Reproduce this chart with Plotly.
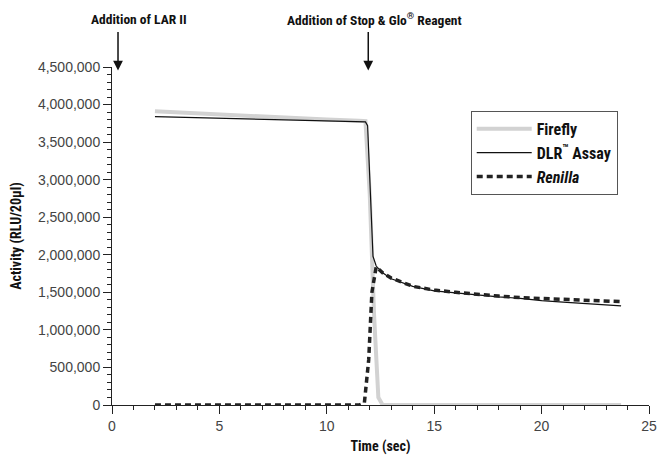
import plotly.graph_objects as go

# ---- data (values in RLU) ----
firefly_t = [2, 4, 6, 8, 10, 11.5, 11.8, 12.0, 12.2, 12.4, 12.6, 15, 20, 23.7]
firefly_v = [3910000, 3880000, 3850000, 3820000, 3800000, 3785000, 3780000,
             2800000, 1200000, 100000, 0, 0, 0, 0]

dlr_t = [2, 5, 8, 10, 11.5, 11.8, 11.9, 12.15, 12.3, 12.6, 13, 14, 15, 16, 17,
         18, 19, 20, 21, 22, 23, 23.7]
dlr_v = [3840000, 3820000, 3800000, 3790000, 3780000, 3770000, 3720000,
         1980000, 1850000, 1760000, 1680000, 1580000, 1520000, 1490000,
         1460000, 1440000, 1420000, 1390000, 1370000, 1350000, 1330000, 1320000]

renilla_t = [2, 4, 6, 8, 10, 11.5, 11.75, 11.95, 12.1, 12.3, 12.6, 13, 14, 15,
             16, 17, 18, 19, 20, 21, 22, 23, 23.7]
renilla_v = [0, 0, 0, 0, 0, 0, 30000, 600000, 1500000, 1840000, 1760000,
             1690000, 1580000, 1530000, 1500000, 1470000, 1450000, 1430000,
             1420000, 1400000, 1390000, 1380000, 1376000]

series_names = ["<b>Firefly</b>", "<b>DLR<sup>™</sup> Assay</b>", "<b><i>Renilla</i></b>"]
events = [("Addition of LAR II", 0.28), ("Addition of Stop &amp; Glo<sup>®</sup> Reagent", 11.93)]

BOLD = "Roboto Condensed, DejaVu Sans Condensed, sans-serif"
REG = "Liberation Sans, Arial, sans-serif"

fig = go.Figure()
fig.add_trace(go.Scatter(x=firefly_t, y=firefly_v, mode="lines", name=series_names[0],
                         line=dict(color="#d2d2d2", width=4)))
fig.add_trace(go.Scatter(x=dlr_t, y=dlr_v, mode="lines", name=series_names[1],
                         line=dict(color="#111111", width=1.2)))
fig.add_trace(go.Scatter(x=renilla_t, y=renilla_v, mode="lines", name=series_names[2],
                         line=dict(color="#222222", width=3.5, dash="6px,4px")))

# event labels and arrows
text_x = [-0.042, 0.323]
for (label, t), tx in zip(events, text_x):
    fig.add_annotation(text="<b>" + label + "</b>", xref="paper", yref="paper",
                       x=tx, y=1.1416, xanchor="left", yanchor="middle",
                       showarrow=False, font=dict(family=BOLD, size=13.5, color="#111"))
    fig.add_annotation(text="", xref="x", yref="paper", x=t, y=0.99,
                       ax=0, ay=-40, axref="pixel", ayref="pixel",
                       showarrow=True, arrowhead=2, arrowsize=1.3, arrowwidth=1.5,
                       arrowcolor="#111")

fig.update_layout(
    width=667, height=462,
    margin=dict(l=112, r=10, t=67, b=49),
    paper_bgcolor="white", plot_bgcolor="white",
    showlegend=True,
    legend=dict(x=0.668, y=0.87, xanchor="left", yanchor="top",
                bordercolor="#555", borderwidth=1, bgcolor="white",
                font=dict(family=BOLD, size=16, color="#111"),
                itemwidth=55, tracegroupgap=0),
    xaxis=dict(range=[0, 25], showgrid=False, zeroline=False, showline=True,
               linecolor="#222", linewidth=1, ticks="outside", ticklen=8,
               tickcolor="#222", dtick=5, tick0=0,
               minor=dict(dtick=1, ticks="outside", ticklen=4, tickcolor="#222"),
               tickfont=dict(family=REG, size=14, color="#444"),
               title=dict(text="<b>Time (sec)</b>", font=dict(family=BOLD, size=14, color="#111"),
                          standoff=8)),
    yaxis=dict(range=[0, 4500000], showgrid=False, zeroline=False, showline=True,
               linecolor="#222", linewidth=1, ticks="outside", ticklen=8,
               tickcolor="#222", dtick=500000, tick0=0, tickformat=",d",
               minor=dict(dtick=100000, ticks="outside", ticklen=4, tickcolor="#222"),
               tickfont=dict(family=REG, size=14, color="#444"),
               title=dict(text="<b>Activity (RLU/20μl)</b>", font=dict(family=BOLD, size=14, color="#111"),
                          standoff=13)),
)

fig.write_html(
    "out.html",
    config={"displayModeBar": False},
    post_script=("document.documentElement.style.margin='0';"
                 "document.documentElement.style.overflow='hidden';"
                 "document.body.style.margin='0';"
                 "document.body.style.overflow='hidden';"),
)
